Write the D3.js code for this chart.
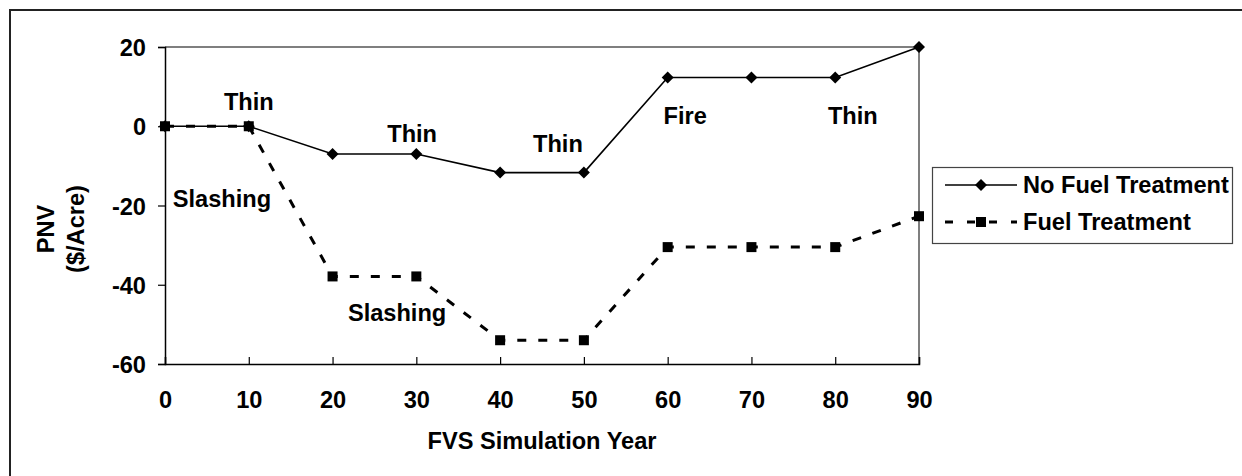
<!DOCTYPE html>
<html>
<head>
<meta charset="utf-8">
<script src="https://cdn.jsdelivr.net/npm/d3@7"></script>
<style>
  html, body { margin: 0; padding: 0; background: #fff; }
  svg { display: block; font-family: "Liberation Sans", Arial, sans-serif; font-weight: bold; }
</style>
</head>
<body>
<div id="chart"></div>
<script>
// FVS simulation years and PNV values ($/acre)
const years = [0, 10, 20, 30, 40, 50, 60, 70, 80, 90];
const noFuelTreatment = [0, 0, -7, -7, -11.7, -11.7, 12.3, 12.3, 12.3, 20];
const fuelTreatment = [0, 0, -37.9, -37.9, -54, -54, -30.5, -30.5, -30.5, -22.7];
const yTicks = [-60, -40, -20, 0, 20];
const seriesNames = ['No Fuel Treatment', 'Fuel Treatment'];

// treatment annotations, anchored in data units (year, value at baseline)
const noteText = ['Thin', 'Slashing', 'Thin', 'Thin', 'Fire', 'Thin', 'Slashing'];
const noteYear = [10, 6.8, 29.5, 46.9, 62.1, 82.1, 27.7];
const noteValue = [4.0, -20.3, -4.0, -6.6, 0.5, 0.5, -49.2];

const W = 1242, H = 476;
const FONT = 23.6;

const svg = d3.select('#chart')
  .append('svg')
  .attr('width', W)
  .attr('height', H);

// outer frame (only top and left visible in the picture)
svg.append('path')
  .attr('d', `M10,${H} L10,10 L${W},10`)
  .attr('fill', 'none')
  .attr('stroke', '#222')
  .attr('stroke-width', 2);

const x = d3.scaleLinear().domain([0, 90]).range([165, 919]);
const y = d3.scaleLinear().domain([-60, 20]).range([364, 47]);

// plot area border, top and right
svg.append('path')
  .attr('d', `M${x(0)},${y(20)} L${x(90)},${y(20)} L${x(90)},${y(-60)}`)
  .attr('fill', 'none')
  .attr('stroke', '#555')
  .attr('stroke-width', 1.5);

function styleLabels(sel) {
  sel.attr('fill', '#000')
    .style('font-size', FONT + 'px')
    .style('font-family', '"Liberation Sans", Arial, sans-serif')
    .style('font-weight', 'bold');
}

// x axis: ticks point inward
const xAxis = svg.append('g')
  .attr('transform', `translate(0,${y(-60)})`)
  .call(d3.axisBottom(x).tickValues(years).tickSize(-7).tickPadding(0).tickFormat(d => String(d)));
xAxis.select('.domain').attr('stroke', '#000').attr('stroke-width', 1.5);
xAxis.selectAll('.tick line').attr('stroke', '#000').attr('stroke-width', 1.2);
xAxis.selectAll('.tick text')
  .attr('y', 44)
  .attr('dy', null)
  .call(styleLabels);

// y axis: ticks point outward, plain hyphen for negatives
const yAxis = svg.append('g')
  .attr('transform', `translate(${x(0)},0)`)
  .call(d3.axisLeft(y).tickValues(yTicks).tickSize(7).tickPadding(12).tickFormat(d => String(d)));
yAxis.select('.domain').attr('stroke', '#000').attr('stroke-width', 1.5);
yAxis.selectAll('.tick line').attr('stroke', '#000').attr('stroke-width', 1.2);
yAxis.selectAll('.tick text')
  .attr('dy', '0.36em')
  .call(styleLabels);

// axis titles
svg.append('text')
  .attr('x', (x(0) + x(90)) / 2)
  .attr('y', 449)
  .attr('text-anchor', 'middle')
  .style('font-size', FONT + 'px')
  .text('FVS Simulation Year');

const yTitle = svg.append('text')
  .attr('transform', `translate(0,229) rotate(-90)`)
  .attr('text-anchor', 'middle')
  .style('font-size', FONT + 'px');
yTitle.append('tspan').attr('x', 0).attr('y', 54).text('PNV');
yTitle.append('tspan').attr('x', 0).attr('y', 84).text('($/Acre)');

// series
const line = d3.line()
  .x((d, i) => x(years[i]))
  .y(d => y(d));

svg.append('path')
  .datum(noFuelTreatment)
  .attr('d', line)
  .attr('fill', 'none')
  .attr('stroke', '#000')
  .attr('stroke-width', 1.6);

svg.append('path')
  .datum(fuelTreatment)
  .attr('d', line)
  .attr('fill', 'none')
  .attr('stroke', '#000')
  .attr('stroke-width', 3)
  .attr('stroke-dasharray', '9,12');

function drawDiamond(g, cx, cy) {
  g.append('path')
    .attr('transform', `translate(${cx},${cy})`)
    .attr('d', 'M0,-6 L6,0 L0,6 L-6,0 Z')
    .attr('fill', '#000');
}

function drawSquare(g, cx, cy) {
  g.append('rect')
    .attr('x', cx - 5)
    .attr('y', cy - 5)
    .attr('width', 10)
    .attr('height', 10)
    .attr('fill', '#000');
}

const marks = svg.append('g');
fuelTreatment.forEach((v, i) => drawSquare(marks, x(years[i]), y(v)));
noFuelTreatment.forEach((v, i) => drawDiamond(marks, x(years[i]), y(v)));

// annotations
svg.append('g')
  .selectAll('text')
  .data(noteText)
  .join('text')
  .attr('x', (d, i) => x(noteYear[i]))
  .attr('y', (d, i) => y(noteValue[i]))
  .attr('text-anchor', 'middle')
  .style('font-size', FONT + 'px')
  .text(d => d);

// legend
const legend = svg.append('g');
legend.append('rect')
  .attr('x', 932.5)
  .attr('y', 167.5)
  .attr('width', 300)
  .attr('height', 76)
  .attr('fill', '#fff')
  .attr('stroke', '#444')
  .attr('stroke-width', 1.2);

const rowY = [185, 222];
legend.append('line')
  .attr('x1', 945).attr('x2', 1017)
  .attr('y1', rowY[0]).attr('y2', rowY[0])
  .attr('stroke', '#000')
  .attr('stroke-width', 1.6);
drawDiamond(legend, 981, rowY[0]);

legend.append('line')
  .attr('x1', 945).attr('x2', 1017)
  .attr('y1', rowY[1]).attr('y2', rowY[1])
  .attr('stroke', '#000')
  .attr('stroke-width', 3)
  .attr('stroke-dasharray', '8,14');
drawSquare(legend, 981, rowY[1]);

legend.selectAll('text.lbl')
  .data(seriesNames)
  .join('text')
  .attr('class', 'lbl')
  .attr('x', 1023)
  .attr('y', (d, i) => rowY[i] + 8)
  .style('font-size', FONT + 'px')
  .text(d => d);
</script>
</body>
</html>
